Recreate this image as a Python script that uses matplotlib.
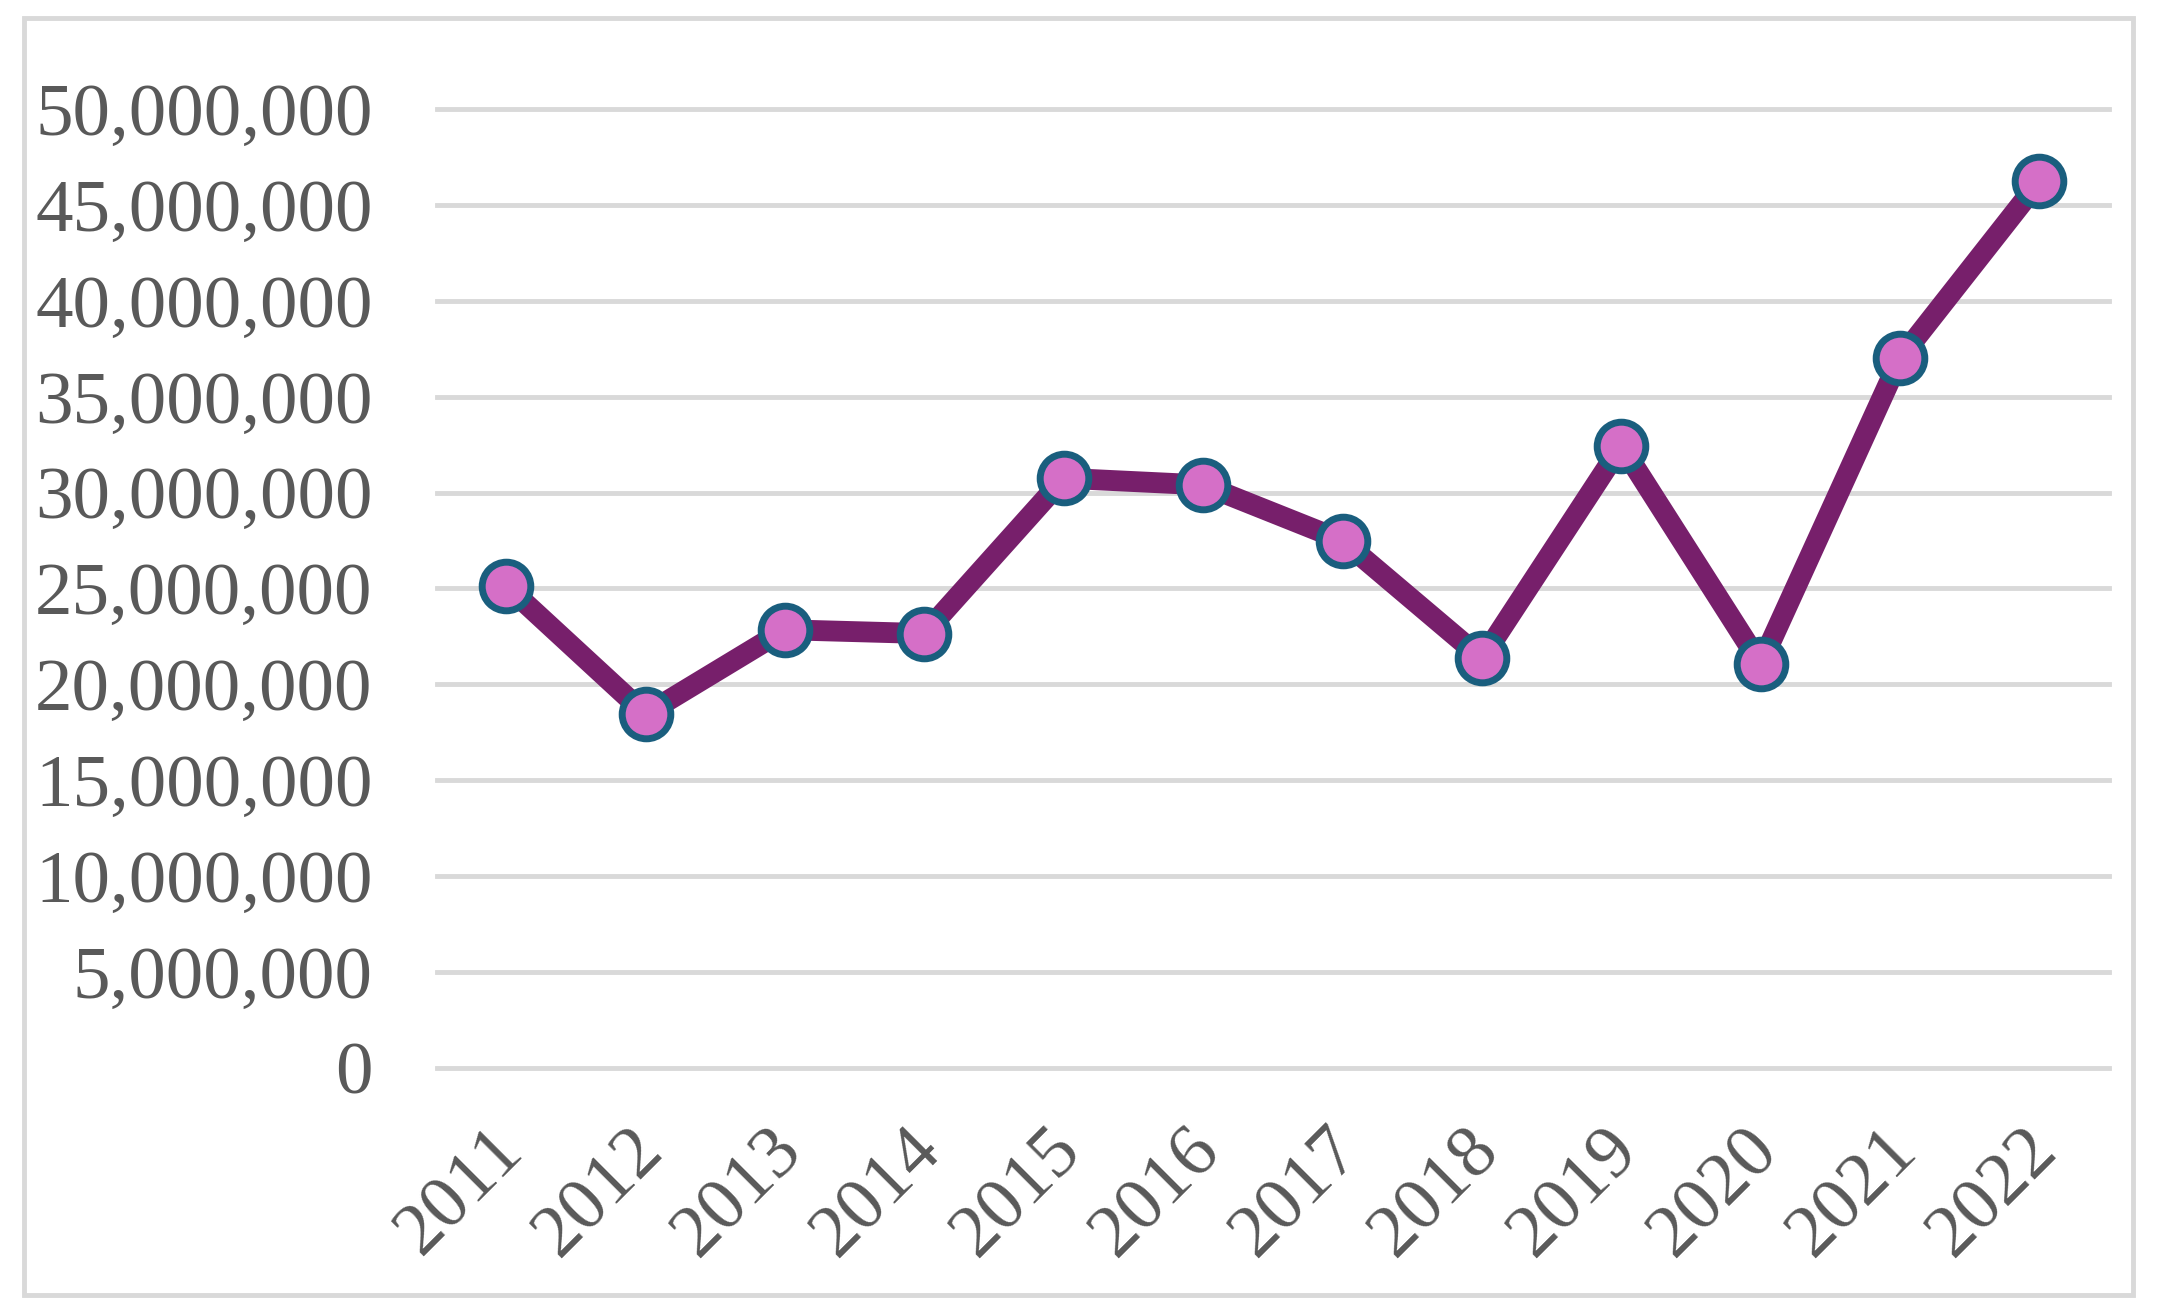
import matplotlib
matplotlib.use("Agg")
import matplotlib.pyplot as plt
import matplotlib.transforms as mtransforms
from matplotlib.patches import Rectangle
from matplotlib.ticker import FuncFormatter

# Datos
years = ["2011", "2012", "2013", "2014", "2015", "2016",
         "2017", "2018", "2019", "2020", "2021", "2022"]
values = [25150000, 18450000, 22850000, 22650000, 30750000, 30400000,
          27500000, 21350000, 32450000, 21050000, 37000000, 46250000]
y_ticks = [0, 5000000, 10000000, 15000000, 20000000, 25000000,
           30000000, 35000000, 40000000, 45000000, 50000000]

plt.rcParams['font.family'] = ['Liberation Serif', 'DejaVu Serif']
text_color = "#595959"
grid_color = "#D9D9D9"

fig = plt.figure(figsize=(21.61, 13.13), dpi=100)
ax = fig.add_axes([0.202, 0.1866, 0.774, 0.7304])

# Línea con marcadores
x = list(range(len(years)))
ax.plot(x, values, color="#771F6B", linewidth=15, zorder=3,
        marker='o', markersize=35, markerfacecolor="#D56FC7",
        markeredgecolor="#1A5E7E", markeredgewidth=5, clip_on=False)

ax.set_xlim(-0.5, len(years) - 0.5)
ax.set_ylim(0, 50000000)
ax.set_yticks(y_ticks)
ax.yaxis.set_major_formatter(FuncFormatter(lambda v, p: f"{int(v):,}"))
ax.set_xticks(x)
ax.set_xticklabels(years, rotation=45, ha='right', va='center',
                   rotation_mode='anchor')

for v in y_ticks:
    ax.axhline(v, color=grid_color, linewidth=3.5, zorder=1, clip_on=False)

for s in ax.spines.values():
    s.set_visible(False)
ax.tick_params(axis='both', length=0, labelsize=54, labelcolor=text_color)
ax.tick_params(axis='y', pad=46)
ax.tick_params(axis='x', pad=52)

# Desplazar un poco las etiquetas del eje x a la derecha
offset = mtransforms.ScaledTranslation(0.07, 0, fig.dpi_scale_trans)
for lbl in ax.get_xticklabels():
    lbl.set_transform(lbl.get_transform() + offset)

# Borde del gráfico
fig.patches.append(Rectangle((0.011, 0.014), 0.976, 0.972,
                             transform=fig.transFigure, fill=False,
                             edgecolor=grid_color, linewidth=3.5))

fig.savefig("out.png", dpi=100)
